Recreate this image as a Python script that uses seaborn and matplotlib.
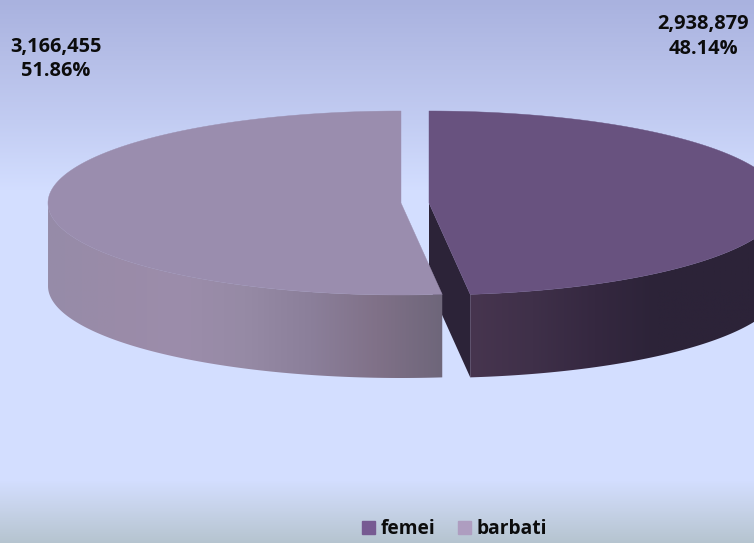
import numpy as np
import matplotlib
matplotlib.use("Agg")
import matplotlib.pyplot as plt
from matplotlib.colors import to_rgb
from matplotlib.patches import Patch, PathPatch
from matplotlib.path import Path
import seaborn as sns

# data
labels = ["femei", "barbati"]
values = [2938879, 3166455]

# colours
top_colors = ["#68527f", "#9a8dae"]
legend_colors = ["#775a92", "#ae9dc0"]
cut_color = "#2c2338"
wall_femei = ["#47354f", "#3f3049", "#352840", "#2c2338", "#2c2338", "#2c2338"]
wall_barbati = ["#968ca8", "#9a8ba8", "#9c8dab", "#968aa5", "#8b7f9a", "#807188", "#6e667a"]

sns.set_theme(style="white")
plt.rcParams["font.family"] = ["Open Sans", "DejaVu Sans"]

W, H = 754, 543
fig = plt.figure(figsize=(W / 100, H / 100), dpi=100)
ax = fig.add_axes([0, 0, 1, 1])

# background, top to bottom
bg_y = [0, 60, 120, 190, 480, 510, 543]
bg_c = ["#a9b2df", "#b6bfe8", "#c2ccf2", "#d3deff", "#d3deff", "#c6d2e8", "#b5c4cf"]
ys = np.arange(H)
bg = np.stack([np.interp(ys, bg_y, [to_rgb(c)[i] for c in bg_c]) for i in range(3)], axis=1)
ax.imshow(bg[:, None, :], extent=[0, W, H, 0], aspect="auto", zorder=0)

# pie shape
A, B = 353, 92
DEPTH = 83
CY = 203
centers = [429, 401]
fracs = np.array(values) / sum(values)


def rim(cx, t, dy=0):
    return cx + A * np.sin(t), CY + dy - B * np.cos(t)


def closed(xs, ys):
    verts = np.column_stack([xs, ys])
    verts = np.vstack([verts, verts[0]])
    codes = [Path.MOVETO] + [Path.LINETO] * (len(verts) - 2) + [Path.CLOSEPOLY]
    return Path(verts, codes)


def draw_slice(cx, start, end, top, wall, z):
    t = np.linspace(start, end, 300)
    # outer wall, only the part facing the viewer
    tf = t[(t >= np.pi / 2) & (t <= 3 * np.pi / 2)]
    xt, yt = rim(cx, tf)
    xb, yb = rim(cx, tf[::-1], DEPTH)
    wall_path = closed(np.r_[xt, xb], np.r_[yt, yb])
    cmap = sns.blend_palette(wall, as_cmap=True)
    im = ax.imshow(np.linspace(0, 1, 256)[None, :], cmap=cmap,
                   extent=[min(xt), max(xt), CY + B + DEPTH + 2, CY - 2],
                   aspect="auto", zorder=z)
    clip = PathPatch(wall_path, fc="none", ec="none", transform=ax.transData)
    ax.add_patch(clip)
    im.set_clip_path(clip)
    # top face
    xs, ys_ = rim(cx, t)
    ax.add_patch(PathPatch(closed(np.r_[cx, xs], np.r_[CY, ys_]), fc=top, ec=top, lw=0.3, zorder=z + 0.5))


# femei first, barbati lies over its cut face
end_f = 2 * np.pi * fracs[0]
xe, ye = rim(centers[0], end_f)
ax.fill([centers[0], xe, xe, centers[0]], [CY, ye, ye + DEPTH, CY + DEPTH], color=cut_color, lw=0, zorder=2)
draw_slice(centers[0], 0, end_f, top_colors[0], wall_femei, 2)
draw_slice(centers[1], end_f, 2 * np.pi, top_colors[1], wall_barbati, 3)

# value labels, one line above the other
label_pos = [(703, 24), (55.5, 47)]
for v, f, (x, y) in zip(values, fracs, label_pos):
    ax.text(x, y, f"{v:,}", ha="center", va="center", fontsize=14.4, fontweight="bold", color="#0c0c0c", zorder=5)
    ax.text(x, y + 24.5, f"{f * 100:.2f}%", ha="center", va="center", fontsize=14.4, fontweight="bold",
            color="#0c0c0c", zorder=5)

handles = [Patch(color=c, label=l) for c, l in zip(legend_colors, labels)]
ax.legend(handles=handles, ncol=2, frameon=False, loc="center", bbox_to_anchor=(454.5, 529.5),
          bbox_transform=ax.transData, prop={"family": "Open Sans", "weight": "bold", "size": 13.8},
          handlelength=0.68, handleheight=0.68, handletextpad=0.3, columnspacing=1.2,
          borderpad=0, labelcolor="#0c0c0c")

ax.set_xlim(0, W)
ax.set_ylim(H, 0)
ax.axis("off")
fig.savefig("out.png", dpi=100)
